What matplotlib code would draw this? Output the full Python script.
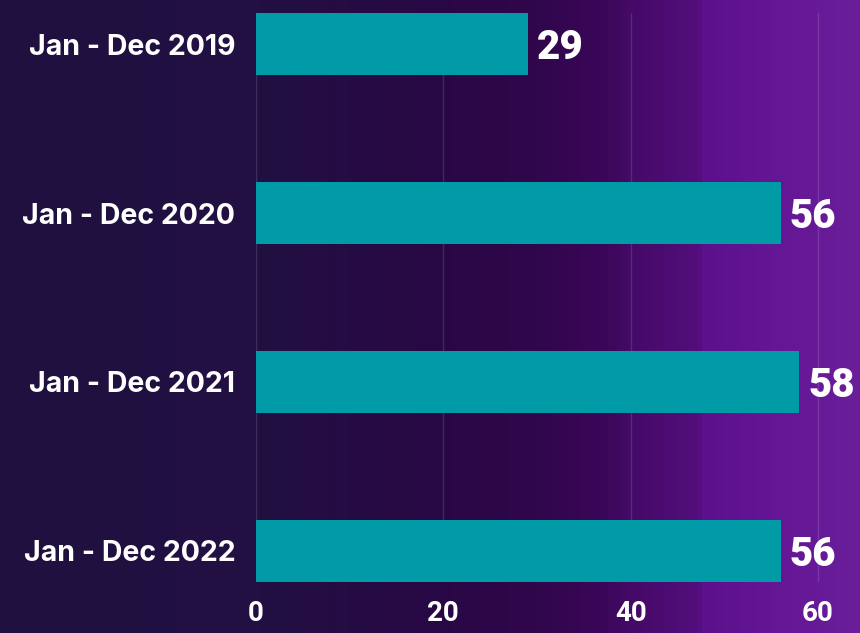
import matplotlib
matplotlib.use("Agg")
import matplotlib.pyplot as plt
import numpy as np
from matplotlib.colors import LinearSegmentedColormap

categories = ["Jan - Dec 2019", "Jan - Dec 2020", "Jan - Dec 2021", "Jan - Dec 2022"]
values = [29, 56, 58, 56]
xticks = [0, 20, 40, 60]

bar_color = "#019ba8"

fig = plt.figure(figsize=(8.6, 6.33), dpi=100)

# background gradient
bg = fig.add_axes([0, 0, 1, 1], zorder=0)
stops = [
    (0.00, "#1f1040"),
    (0.30, "#221042"),
    (0.51, "#290845"),
    (0.62, "#30064b"),
    (0.70, "#3a0658"),
    (0.73, "#440a66"),
    (0.815, "#530e7c"),
    (0.818, "#5c108c"),
    (0.90, "#641694"),
    (1.00, "#6a1e9a"),
]
cmap = LinearSegmentedColormap.from_list("bg", stops)
grad = np.linspace(0, 1, 860).reshape(1, -1)
bg.imshow(grad, aspect="auto", cmap=cmap, extent=[0, 1, 0, 1])
bg.axis("off")

W, H = 860, 633
left, right = 256, 860
top, bottom = 13, 582
ax = fig.add_axes([left / W, 1 - bottom / H, (right - left) / W, (bottom - top) / H], zorder=1)
ax.patch.set_alpha(0)

y = np.arange(len(categories))
bh = 0.367
ax.barh(y, values, height=bh, color=bar_color, zorder=3)
ax.set_ylim(len(categories) - 1 + bh / 2, -bh / 2)
ax.set_xlim(0, (right - left) / ((818 - 256) / 60))

ax.set_yticks(y)
ax.set_yticklabels(categories, fontsize=20.5, color="white", fontfamily="Inter", fontweight="bold")
ax.set_xticks(xticks)
ax.set_xticklabels([str(t) for t in xticks], fontsize=20, color="white", fontfamily="Roboto", fontweight="bold")
ax.tick_params(axis="y", length=0, pad=15)
ax.tick_params(axis="x", length=0, pad=13)

for s in ax.spines.values():
    s.set_visible(False)
ax.grid(axis="x", color="white", alpha=0.12, linewidth=1, zorder=0)
ax.set_axisbelow(True)

for yi, v in zip(y, values):
    ax.text(v + 0.95, yi + 0.02, str(v), va="center", ha="left", fontsize=29,
            color="white", fontfamily="Roboto", fontweight="black", zorder=4, clip_on=False)

fig.savefig("out.png", dpi=100)
